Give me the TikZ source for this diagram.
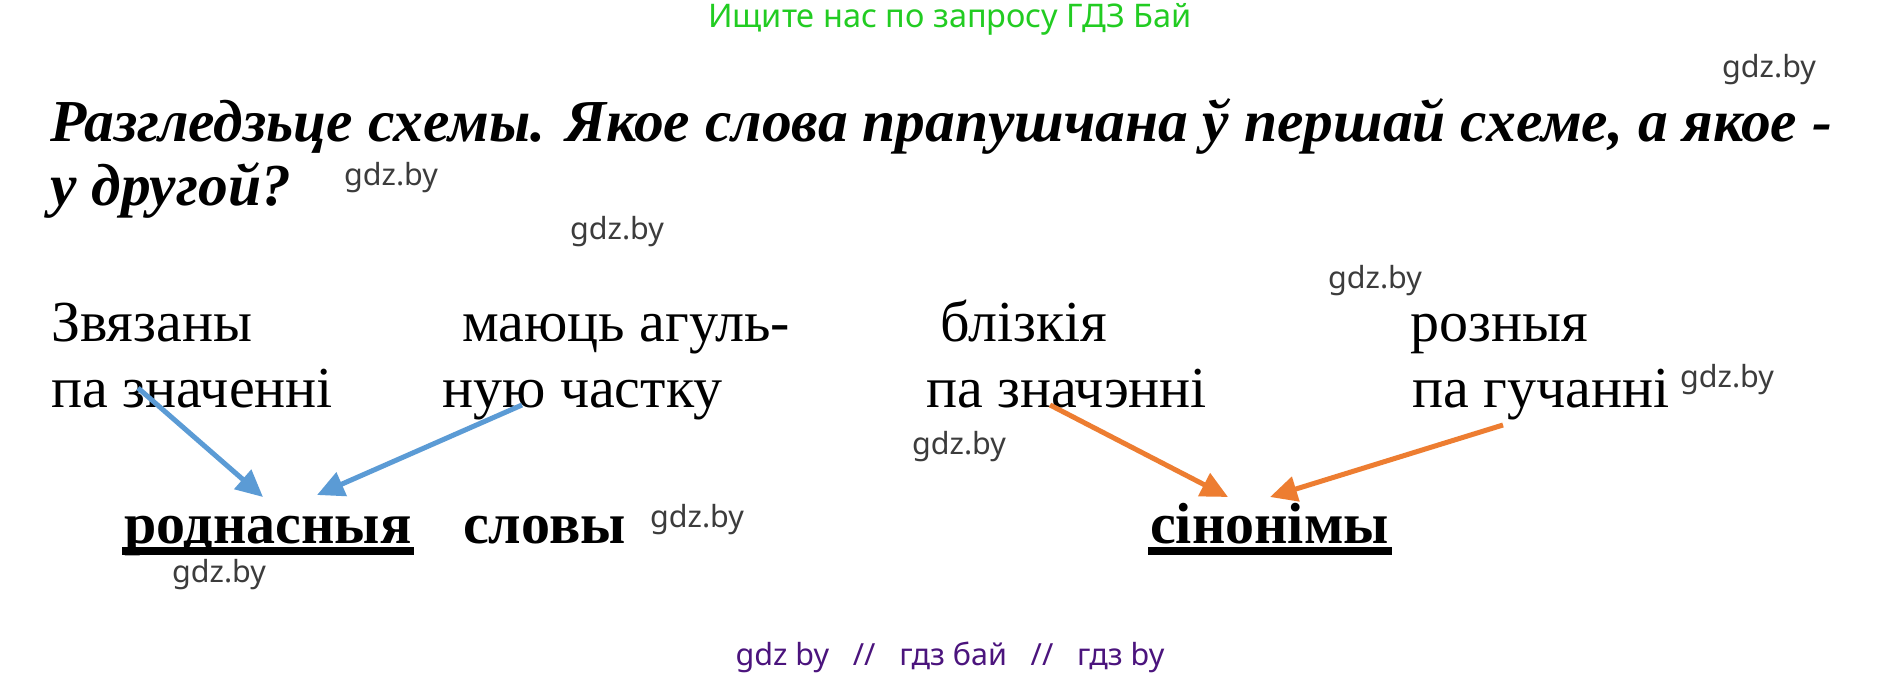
\documentclass[tikz,border=0pt]{standalone}
\usepackage{fontspec}
\setmainfont{Liberation Serif}
\newfontfamily\wmfont{Noto Sans}
\usetikzlibrary{arrows.meta}
\definecolor{arrblue}{RGB}{91,155,213}
\definecolor{arrorange}{RGB}{237,125,49}
\definecolor{wmgray}{RGB}{60,60,60}
\definecolor{adgreen}{RGB}{34,204,34}
\definecolor{adpurple}{RGB}{75,20,125}
\tikzset{
 ttl/.style={anchor=base west,inner sep=0pt,font=\fontsize{59.5}{60}\selectfont\bfseries\itshape},
 txt/.style={anchor=base west,inner sep=0pt,font=\fontsize{58}{58}\selectfont},
 key/.style={anchor=base west,inner sep=0pt,font=\fontsize{58}{58}\selectfont\bfseries},
 wm/.style={anchor=base west,inner sep=0pt,text=wmgray,font=\wmfont\fontsize{30.5}{30}\selectfont},
 ad/.style={anchor=base,inner sep=0pt,font=\wmfont\fontsize{30.5}{31}\selectfont},
 blu/.style={draw=arrblue,line width=5pt,-{Triangle[length=27pt,width=25pt]}},
 org/.style={draw=arrorange,line width=5pt,-{Triangle[length=27pt,width=25pt]}}
}
\begin{document}
\begin{tikzpicture}[x=1pt,y=-1pt]
 \fill[white](0,0) rectangle (1902,676);
 \useasboundingbox (0,0) rectangle (1902,676);
 % top and bottom lines
 \node[ad,text=adgreen,font=\wmfont\fontsize{32.5}{32}\selectfont] (adtop) at (950,28) {Ищите нас по запросу ГДЗ Бай};
 \node[ad,text=adpurple] (adbot) at (950,665) {gdz by \ \ // \ \ гдз бай \ \ // \ \ гдз by};
 % task
 \node[ttl] (ttl1) at (50,142) {Разгледзьце схемы. Якое слова прапушчана ў першай схеме, а якое -};
 \node[ttl] (ttl2) at (50,206) {у другой?};
 % first scheme
 \node[txt] (zv1) at (51,341) {Звязаны};
 \node[txt] (zv2) at (51,407) {па значенні};
 \node[txt] (ma1) at (462,341) {маюць агуль-};
 \node[txt] (ma2) at (442,407) {ную частку};
 \node[key] (rod) at (124,543) {роднасныя};
 \node[key] (slo) at (463,543) {словы};
 \fill ([xshift=-2pt,yshift=-4pt]rod.base west) rectangle ([xshift=2pt,yshift=-12pt]rod.base east);
 % second scheme
 \node[txt] (bl1) at (940,341) {блізкія};
 \node[txt] (bl2) at (926,407) {па значэнні};
 \node[txt] (ro1) at (1410,341) {розныя};
 \node[txt] (ro2) at (1412,407) {па гучанні};
 \node[key] (sin) at (1150,543) {сінонімы};
 \fill ([xshift=-2pt,yshift=-4pt]sin.base west) rectangle ([xshift=3pt,yshift=-12pt]sin.base east);
 % arrow ends
 \coordinate (b1s) at (138,388);
 \coordinate (b1e) at (263,497);
 \coordinate (b2s) at (522,405);
 \coordinate (b2e) at (317,495);
 \coordinate (o1s) at (1050,405);
 \coordinate (o1e) at (1228,497);
 \coordinate (o2s) at (1503,425);
 \coordinate (o2e) at (1270,497);
 \draw[blu] (b1s) -- (b1e);
 \draw[blu] (b2s) -- (b2e);
 \draw[org] (o1s) -- (o1e);
 \draw[org] (o2s) -- (o2e);
 % watermarks
 \node[wm] (w1) at (1722,78) {gdz.by};
 \node[wm] (w2) at (344,186) {gdz.by};
 \node[wm] (w3) at (570,240) {gdz.by};
 \node[wm] (w4) at (1328,288) {gdz.by};
 \node[wm] (w5) at (1680,387) {gdz.by};
 \node[wm] (w6) at (912,454) {gdz.by};
 \node[wm] (w7) at (650,527) {gdz.by};
 \node[wm] (w8) at (172,582) {gdz.by};
\end{tikzpicture}
\end{document}
